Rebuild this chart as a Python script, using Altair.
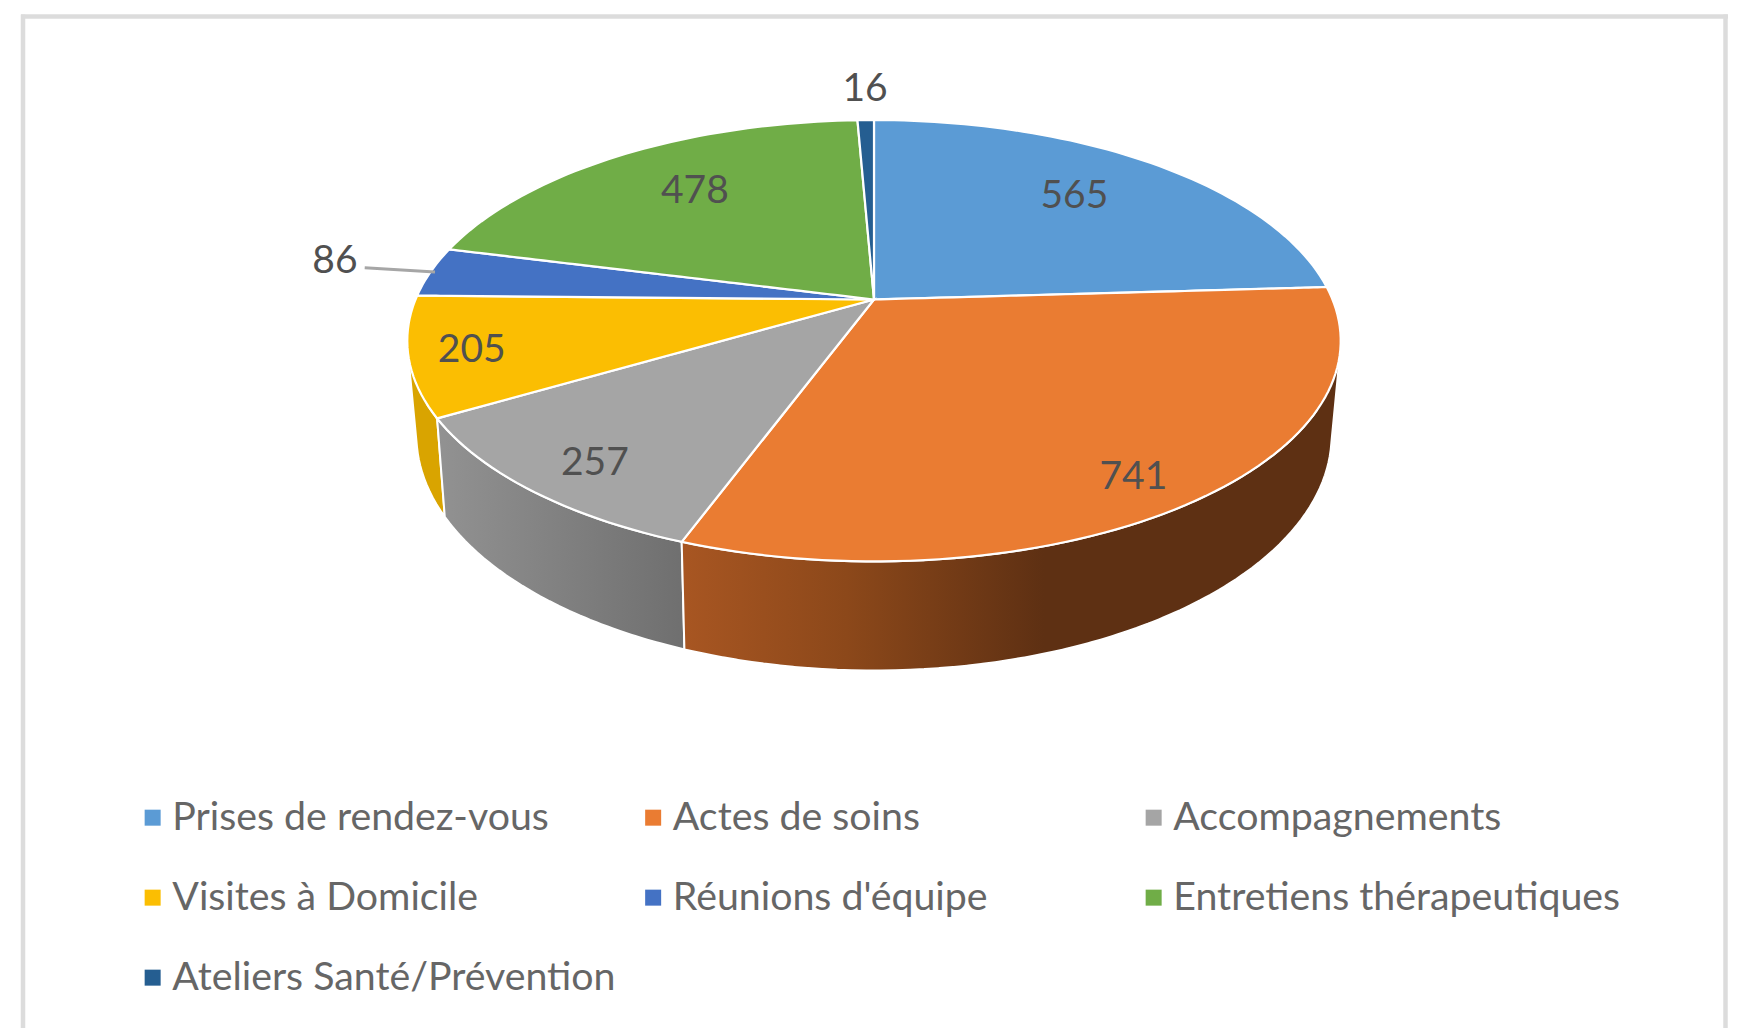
import altair as alt
import numpy as np
import pandas as pd

# ---- chart data -------------------------------------------------------
categories = ["Prises de rendez-vous", "Actes de soins", "Accompagnements",
              "Visites à Domicile", "Réunions d'équipe",
              "Entretiens thérapeutiques", "Ateliers Santé/Prévention"]
values = [565, 741, 257, 205, 86, 478, 16]
colors = ["#5B9BD5", "#EA7C32", "#A5A5A5", "#FBBE02", "#4472C4", "#70AD47", "#255E91"]

# ---- layout (page pixels) ---------------------------------------------
W, H = 1722, 1020
CX, TOP_Y0, TOP_A, TOP_B = 874.0, 299.5, 458.5, 213.0
BOT_Y0, BOT_A, BOT_B = 390.0, 449.0, 226.5
K = 0.1868
K_BOT = 0.1926
FONT = "Lato"
label_r = [0.7245, 0.868, 0.855, 0.87, 1.232, 0.715, 1.22]
label_dtheta = [-1.7, 2.2, -1.4, -0.3, 1.2, 1.9, 0.1]
label_sizes = 39


def project(theta_deg, r=1.0, bottom=False):
    """Perspective view of a point on the pie disc."""
    t = np.radians(theta_deg)
    u, v = r * np.sin(t), r * np.cos(t)
    if bottom:
        w = 1 + K_BOT * v
        return CX + BOT_A * u / w, BOT_Y0 - BOT_B * v / w
    w = 1 + K * v
    return CX + TOP_A * u / w, TOP_Y0 - TOP_B * v / w


def envelope(x1, y1, x2, y2):
    """Vertical span of a set of segments at each of their x positions."""
    xs = np.unique(np.round(np.concatenate([x1, x2]), 2))
    rows = []
    lo, hi = np.minimum(x1, x2), np.maximum(x1, x2)
    for x in xs:
        m = (lo <= x + 0.006) & (x - 0.006 <= hi)
        dx = (x2 - x1)[m]
        t = np.where(np.abs(dx) < 1e-9, 0.0, (x - x1[m]) / np.where(np.abs(dx) < 1e-9, 1, dx))
        t = np.clip(t, 0, 1)
        ys = y1[m] + t * (y2 - y1)[m]
        rows.append((float(x), float(ys.min()), float(ys.max())))
    return rows


total = sum(values)
ends = np.cumsum(values) / total * 360
starts = np.concatenate([[0], ends[:-1]])
mids = (starts + ends) / 2


def arc(t0, t1):
    return np.linspace(t0, t1, int((t1 - t0) / 1.5) + 2)


top_rows = []
for name, t0, t1 in zip(categories, starts, ends):
    ax, ay = project(arc(t0, t1))
    ox = np.concatenate([[CX], ax])
    oy = np.concatenate([[TOP_Y0], ay])
    x1, y1 = ox, oy
    x2, y2 = np.roll(ox, -1), np.roll(oy, -1)
    for x, a, b in envelope(x1, y1, x2, y2):
        top_rows.append({"cat": name, "x": round(x, 2), "y": round(a, 2), "y2": round(b, 2)})
top_df = pd.DataFrame(top_rows)


def wall_df(i):
    th = arc(starts[i], ends[i])
    tx, ty = project(th)
    bx, by = project(th, bottom=True)
    x1 = np.concatenate([tx[:-1], bx[:-1], tx])
    y1 = np.concatenate([ty[:-1], by[:-1], ty])
    x2 = np.concatenate([tx[1:], bx[1:], bx])
    y2 = np.concatenate([ty[1:], by[1:], by])
    rows = envelope(x1, y1, x2, y2)
    return pd.DataFrame([{"x": round(x, 2), "y": round(a, 2), "y2": round(b, 2)} for x, a, b in rows])


sx = alt.Scale(domain=[8, 8 + W], nice=False, zero=False)
sy = alt.Scale(domain=[8 + H, 8], nice=False, zero=False)
X = alt.X("x:Q", scale=sx, axis=None)
Y = alt.Y("y:Q", scale=sy, axis=None, stack=None)
Y2 = alt.Y2("y2:Q")


def grad(stops):
    return alt.Gradient(gradient="linear", x1=0, x2=1, y1=0, y2=0,
                        stops=[alt.GradientStop(offset=o, color=c) for o, c in stops])


wall_styles = [
    (3, [(0, "#D9A400"), (1, "#D9A400")]),
    (2, [(0, "#929292"), (1, "#6F6F6F")]),
    (1, [(0, "#A85622"), (0.25, "#8C481A"), (0.55, "#5E3013"), (1, "#5E3013")]),
]
walls = [
    alt.Chart(wall_df(i)).mark_area(orient="vertical", fill=grad(st), stroke="white", strokeWidth=2)
    .encode(x=X, y=Y, y2=Y2)
    for i, st in wall_styles
]

tops = alt.Chart(top_df).mark_area(orient="vertical", stroke="white", strokeWidth=2.2).encode(
    x=X, y=Y, y2=Y2,
    color=alt.Color(
        "cat:N",
        scale=alt.Scale(domain=categories, range=colors),
        legend=alt.Legend(
            title=None, orient="none", legendX=125, legendY=790, columns=3, direction="horizontal",
            gridAlign="all", symbolType="square", symbolSize=256, symbolStrokeWidth=0,
            labelFont=FONT, labelFontSize=39.3, labelColor="#666666", labelLimit=600,
            labelOffset=0, columnPadding=13.5, rowPadding=40, padding=0,
        ),
    ),
)

# leader line for the small slice
lead_x, lead_y = project(mids[4], np.array([1.153, 0.99]))
lead_df = pd.DataFrame({"x": lead_x, "y": lead_y})
leader = alt.Chart(lead_df).mark_line(color="#A6A6A6", strokeWidth=3).encode(x=X, y=alt.Y("y:Q", scale=sy, axis=None))

lab_x, lab_y = project(mids + np.array(label_dtheta), np.array(label_r))
lab_df = pd.DataFrame({"x": lab_x, "y": lab_y, "t": [str(v) for v in values]})
labels = alt.Chart(lab_df).mark_text(
    font=FONT, fontSize=label_sizes, color="#505050", baseline="middle", align="center", dy=1
).encode(x=X, y=alt.Y("y:Q", scale=sy, axis=None), text="t:N")

fr = {"color": "#DCDCDC", "strokeWidth": 4.5}
frame_left = alt.Chart(pd.DataFrame({"a": [0]})).mark_rule(**fr).encode(
    x=alt.value(15), y=alt.value(6.5), y2=alt.value(H))
frame_top = alt.Chart(pd.DataFrame({"a": [0]})).mark_rule(**fr).encode(
    x=alt.value(13), x2=alt.value(1720), y=alt.value(8.5))
frame_right = alt.Chart(pd.DataFrame({"a": [0]})).mark_rule(**fr).encode(
    x=alt.value(1717.5), y=alt.value(6.5), y2=alt.value(H))

chart = alt.layer(
    frame_left, frame_top, frame_right, *walls, tops, leader, labels
).properties(
    width=W, height=H, padding=0, autosize=alt.AutoSizeParams(type="none"), background="white"
).configure_view(stroke=None)

chart.save("out.html", embed_options={"renderer": "svg", "actions": False})
